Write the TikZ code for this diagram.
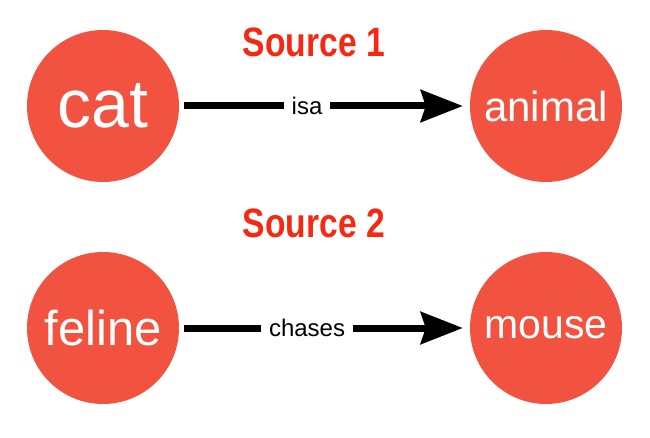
\documentclass[tikz,border=0pt]{standalone}
\usepackage{fontspec}
\setmainfont{Liberation Sans}
\usetikzlibrary{arrows.meta}
\definecolor{circlered}{RGB}{242,83,65}
\definecolor{titlered}{RGB}{245,40,18}
\begin{document}
\begin{tikzpicture}[x=1pt,y=-1pt,
  concept/.style={circle, fill=circlered, draw=none, minimum size=152pt, inner sep=0pt, text=white},
  title/.style={anchor=base, text=titlered, inner sep=0pt, font=\bfseries\fontsize{41}{41}\selectfont},
  rel/.style={line width=7pt, -{Stealth[length=42pt,width=32pt,inset=5pt]}, shorten <=5pt, shorten >=7pt},
  lbl/.style={fill=white, inner xsep=8pt, inner ysep=2pt, text=black, font=\fontsize{24}{24}\selectfont}
]
\useasboundingbox[fill=white] (0,0) rectangle (650,438);
\node[title] (t1) at (314,57) {\scalebox{0.82}[1]{Source 1}};
\node[title] (t2) at (314,237) {\scalebox{0.82}[1]{Source 2}};
\node[concept, font=\fontsize{68}{68}\selectfont] (cat) at (103,106) {cat};
\node[concept, font=\fontsize{42}{42}\selectfont] (animal) at (546,106) {animal};
\node[concept, font=\fontsize{49}{49}\selectfont] (feline) at (103,328) {feline};
\node[concept, font=\fontsize{41}{41}\selectfont] (mouse) at (546,328) {mouse};
\draw[rel] (cat) -- node[lbl, pos=0.44] {isa} (animal);
\draw[rel] (feline) -- node[lbl, pos=0.44] {chases} (mouse);
\end{tikzpicture}
\end{document}
